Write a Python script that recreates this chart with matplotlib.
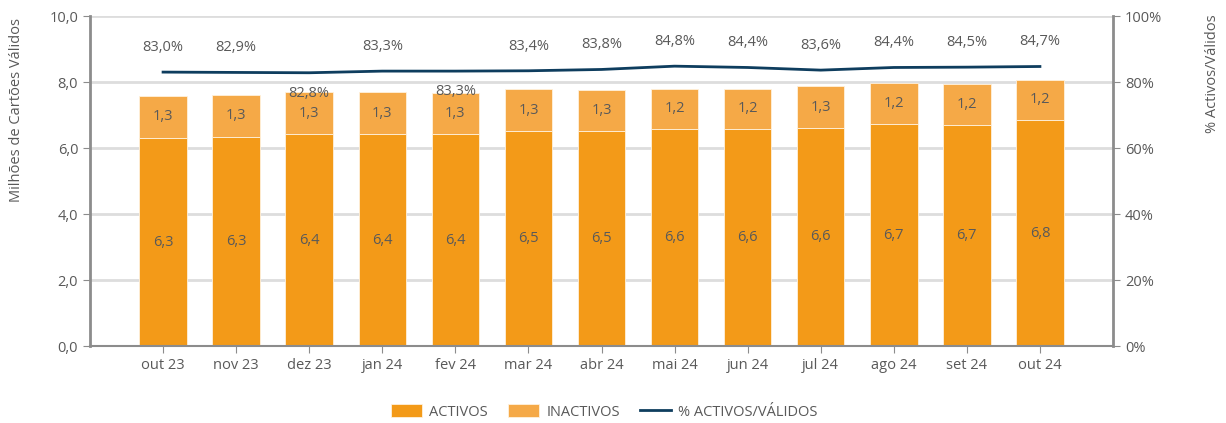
import matplotlib.pyplot as plt
from matplotlib.ticker import FuncFormatter

plt.rcParams['font.family'] = ['Open Sans', 'DejaVu Sans']

meses = ['out 23', 'nov 23', 'dez 23', 'jan 24', 'fev 24', 'mar 24', 'abr 24',
         'mai 24', 'jun 24', 'jul 24', 'ago 24', 'set 24', 'out 24']
activos = [6.30, 6.33, 6.41, 6.42, 6.41, 6.51, 6.51, 6.58, 6.58, 6.61, 6.72, 6.70, 6.84]
inactivos = [1.28, 1.28, 1.29, 1.28, 1.27, 1.28, 1.25, 1.21, 1.21, 1.26, 1.24, 1.23, 1.23]
pct = [83.0, 82.9, 82.8, 83.3, 83.3, 83.4, 83.8, 84.8, 84.4, 83.6, 84.4, 84.5, 84.7]
lbl_act = ['6,3', '6,3', '6,4', '6,4', '6,4', '6,5', '6,5', '6,6', '6,6', '6,6', '6,7', '6,7', '6,8']
lbl_inact = ['1,3', '1,3', '1,3', '1,3', '1,3', '1,3', '1,3', '1,2', '1,2', '1,3', '1,2', '1,2', '1,2']
lbl_pct = ['83,0%', '82,9%', '82,8%', '83,3%', '83,3%', '83,4%', '83,8%',
           '84,8%', '84,4%', '83,6%', '84,4%', '84,5%', '84,7%']
abaixo = [2, 4]  # labels drawn under the line

c_act = '#F39A18'
c_inact = '#F5A947'
c_linha = '#0E3D5E'
c_txt = '#595959'
c_eixo = '#8C8C8C'
fs = 10.5

fig = plt.figure(figsize=(12.26, 4.23), dpi=100)
ax = fig.add_axes([90 / 1226, 77 / 423, (1113 - 90) / 1226, 330 / 423])
x = list(range(len(meses)))

ax.bar(x, activos, width=0.65, color=c_act, edgecolor='#FFF1DC', linewidth=0.6, zorder=2, label='ACTIVOS')
ax.bar(x, inactivos, width=0.65, bottom=activos, color=c_inact, edgecolor='#FFF1DC', linewidth=0.6,
       zorder=2, label='INACTIVOS')
for i in x:
    ax.text(i, activos[i] / 2, lbl_act[i], ha='center', va='center', fontsize=fs, color=c_txt, zorder=5)
    ax.text(i, activos[i] + inactivos[i] / 2, lbl_inact[i], ha='center', va='center', fontsize=fs,
            color=c_txt, zorder=5)

ax.set_xlim(-1, 13)
ax.set_ylim(0, 10)
ax.set_yticks([0, 2, 4, 6, 8, 10])
ax.yaxis.set_major_formatter(FuncFormatter(lambda v, p: f'{v:.1f}'.replace('.', ',')))
ax.set_xticks(x)
ax.set_xticklabels(meses)
ax.grid(axis='y', color='#DDDDDD', linewidth=2, zorder=0)
ax.set_axisbelow(True)
for s in ['top', 'right']:
    ax.spines[s].set_visible(False)
ax.spines['left'].set_color(c_eixo)
ax.spines['left'].set_linewidth(2)
ax.spines['bottom'].set_color(c_eixo)
ax.spines['bottom'].set_linewidth(1.5)
ax.tick_params(axis='both', colors=c_eixo, labelcolor=c_txt, labelsize=fs, length=5)

ax2 = ax.twinx()
ax2.plot(x, pct, color=c_linha, linewidth=2, zorder=4, label='% ACTIVOS/VÁLIDOS')
for i in x:
    ax2.text(i, pct[i] + (-6.2 if i in abaixo else 7.5), lbl_pct[i], ha='center', va='center',
             fontsize=fs, color=c_txt, zorder=5)
ax2.set_ylim(0, 100)
ax2.set_yticks([0, 20, 40, 60, 80, 100])
ax2.yaxis.set_major_formatter(FuncFormatter(lambda v, p: f'{v:.0f}%'))
for s in ['top', 'left', 'bottom']:
    ax2.spines[s].set_visible(False)
ax2.spines['right'].set_color(c_eixo)
ax2.spines['right'].set_linewidth(2)
ax2.tick_params(axis='y', colors=c_eixo, labelcolor=c_txt, labelsize=fs, length=5)

# axis titles, aligned to the top as in the source chart
fig.text(17 / 1226, 1 - 18 / 423, 'Milhões de Cartões Válidos', rotation=90, ha='center', va='top',
         fontsize=fs, color=c_txt)
fig.text(1212 / 1226, 1 - 14 / 423, '% Activos/Válidos', rotation=90, ha='center', va='top',
         fontsize=fs, color=c_txt)

h1, l1 = ax.get_legend_handles_labels()
h2, l2 = ax2.get_legend_handles_labels()
fig.legend(h1 + h2, l1 + l2, loc='center', bbox_to_anchor=(0.493, 0.026), ncol=3, frameon=False,
           fontsize=fs, labelcolor=c_txt, handlelength=2.1, handleheight=1.0, handletextpad=0.5,
           columnspacing=1.4)

fig.savefig('out.png', dpi=100)
